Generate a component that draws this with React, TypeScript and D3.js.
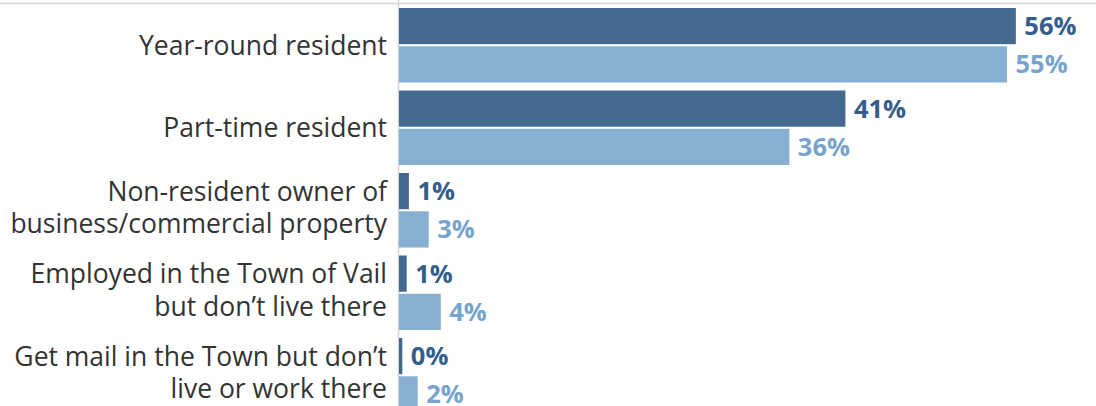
import React from "react";
import * as d3 from "d3";

const categories: string[][] = [
  ["Year-round resident"],
  ["Part-time resident"],
  ["Non-resident owner of", "business/commercial property"],
  ["Employed in the Town of Vail", "but don\u2019t live there"],
  ["Get mail in the Town but don\u2019t", "live or work there"],
];
const seriesKeys = ["dark", "light"];
const darkValues = [56.1, 40.6, 0.9, 0.7, 0.3];
const lightValues = [55.3, 35.5, 2.7, 3.8, 1.7];

const W = 1096;
const H = 406;
const DARK = "#44698f";
const LIGHT = "#86afd1";
const DARK_TEXT = "#335d8a";
const LIGHT_TEXT = "#76a4cd";
const GRID = "#d4d4d4";
const FONT = "'Open Sans', sans-serif";

export default function App() {
  const ids = categories.map((_, i) => String(i));
  const x = d3.scaleLinear().domain([0, 63.3]).range([399, 1095]);
  const y0 = d3
    .scaleBand<string>()
    .domain(ids)
    .range([4, 4 + 82.5 * 5])
    .paddingInner(0.097)
    .paddingOuter(0.0485);
  const y1 = d3
    .scaleBand<string>()
    .domain(seriesKeys)
    .range([0, y0.bandwidth()])
    .paddingInner(0.054);
  const data = [darkValues, lightValues];
  const fills = [DARK, LIGHT];
  const textFills = [DARK_TEXT, LIGHT_TEXT];

  return (
    <svg
      width={W}
      height={H}
      style={{ position: "absolute", left: 0, top: 0, background: "#fff" }}
    >
      <line x1={0} x2={W} y1={3.5} y2={3.5} stroke={GRID} strokeWidth={1.5} />
      <line x1={398.5} x2={398.5} y1={0} y2={H} stroke={GRID} strokeWidth={1.5} />
      {ids.map((id, i) => {
        const top = y0(id)!;
        const center = top + y0.bandwidth() / 2;
        const lines = categories[i];
        return (
          <g key={id}>
            {lines.length === 1 ? (
              <text
                x={387}
                y={center + 9.5}
                textAnchor="end"
                fontFamily={FONT}
                fontSize={26.5}
                fill="#333"
              >
                {lines[0]}
              </text>
            ) : (
              lines.map((ln, j) => (
                <text
                  key={j}
                  x={387}
                  y={center - 9.5 + j * 32.5}
                  textAnchor="end"
                  fontFamily={FONT}
                  fontSize={26.5}
                  fill="#333"
                >
                  {ln}
                </text>
              ))
            )}
            {seriesKeys.map((k, s) => {
              const v = data[s][i];
              const by = top + y1(k)!;
              const bh = y1.bandwidth();
              return (
                <g key={k}>
                  <rect
                    x={x(0)}
                    y={by}
                    width={x(v) - x(0)}
                    height={bh}
                    fill={fills[s]}
                  />
                  <text
                    x={x(v) + 8.5}
                    y={by + bh / 2 + 9}
                    fontFamily={FONT}
                    fontWeight={700}
                    fontSize={25.5}
                    fill={textFills[s]}
                  >
                    {Math.round(v) + "%"}
                  </text>
                </g>
              );
            })}
          </g>
        );
      })}
    </svg>
  );
}
